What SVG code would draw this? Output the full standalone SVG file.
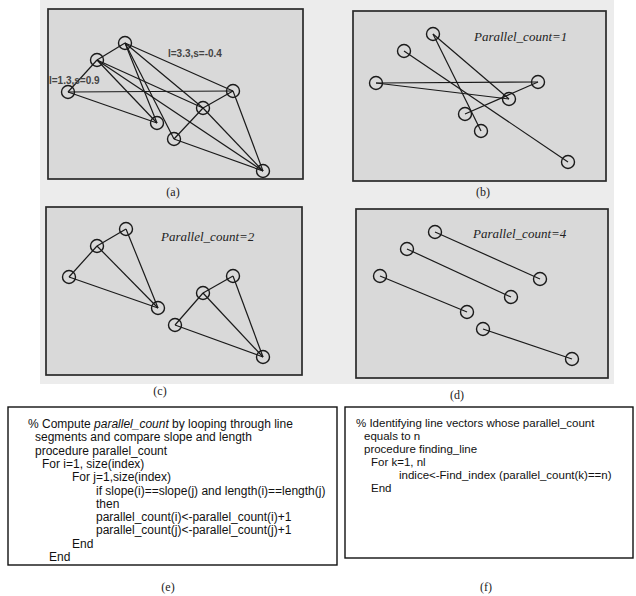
<svg xmlns="http://www.w3.org/2000/svg" width="636" height="596" viewBox="0 0 636 596">
<style>
.bg{fill:#ececec}
.panel{fill:#d9d9d9;stroke:#2a2a2a;stroke-width:1.7}
.box{fill:#fff;stroke:#111;stroke-width:1.4}
.n{fill:none;stroke:#1a1a1a;stroke-width:1.4}
.e line{stroke:#1a1a1a;stroke-width:1.2}
.cap{font-family:"Liberation Serif",serif;font-size:12px;fill:#222}
.pc{font-family:"Liberation Serif",serif;font-style:italic;font-size:13px;fill:#222}
.lab{font-family:"Liberation Sans",Arial,sans-serif;font-weight:bold;font-size:10px;fill:#444}
.code{font-family:"Liberation Sans",Arial,sans-serif;font-size:12px;fill:#111}
.code2{font-family:"Liberation Sans",Arial,sans-serif;font-size:11.5px;fill:#111}
</style>
<rect width="636" height="596" fill="#fff"/>
<rect class="bg" x="40" y="0" width="574" height="384"/>

<!-- Panel (a) -->
<g id="panel-a">
<rect class="panel" x="48" y="9" width="255" height="170"/>
<g class="e" id="edges-a">
<line x1="125" y1="43" x2="97" y2="60"/>
<line x1="97" y1="60" x2="68" y2="92"/>
<line x1="68" y1="92" x2="233" y2="91"/>
<line x1="68" y1="92" x2="157" y2="123"/>
<line x1="125" y1="43" x2="157" y2="123"/>
<line x1="125" y1="43" x2="174" y2="139"/>
<line x1="125" y1="43" x2="233" y2="91"/>
<line x1="125" y1="43" x2="203" y2="108"/>
<line x1="97" y1="60" x2="157" y2="123"/>
<line x1="97" y1="60" x2="203" y2="108"/>
<line x1="97" y1="60" x2="263" y2="171"/>
<line x1="233" y1="91" x2="203" y2="108"/>
<line x1="233" y1="91" x2="263" y2="171"/>
<line x1="203" y1="108" x2="174" y2="139"/>
<line x1="203" y1="108" x2="263" y2="171"/>
<line x1="174" y1="139" x2="263" y2="171"/>
</g>
<g id="a-n1"><circle class="n" cx="125" cy="43" r="6.5"/></g>
<g id="a-n2"><circle class="n" cx="97" cy="60" r="6.5"/></g>
<g id="a-n3"><circle class="n" cx="68" cy="92" r="6.5"/></g>
<g id="a-n4"><circle class="n" cx="233" cy="91" r="6.5"/></g>
<g id="a-n5"><circle class="n" cx="203" cy="108" r="6.5"/></g>
<g id="a-n6"><circle class="n" cx="157" cy="123" r="6.5"/></g>
<g id="a-n7"><circle class="n" cx="174" cy="139" r="6.5"/></g>
<g id="a-n8"><circle class="n" cx="263" cy="171" r="6.5"/></g>
<text class="lab" x="168" y="57">l=3.3,s=-0.4</text>
<text class="lab" x="49" y="84">l=1.3,s=0.9</text>
<text class="cap" x="173" y="196" text-anchor="middle">(a)</text>
</g>

<!-- Panel (b) -->
<g id="panel-b">
<rect class="panel" x="353" y="11" width="253" height="170"/>
<g class="e" id="edges-b">
<line x1="376" y1="83" x2="538" y2="82"/>
<line x1="376" y1="83" x2="509" y2="99"/>
<line x1="433" y1="34" x2="481" y2="131"/>
<line x1="433" y1="34" x2="509" y2="99"/>
<line x1="404" y1="51" x2="568" y2="162"/>
<line x1="465" y1="114" x2="538" y2="82"/>
</g>
<g id="b-n1"><circle class="n" cx="433" cy="34" r="6.5"/></g>
<g id="b-n2"><circle class="n" cx="404" cy="51" r="6.5"/></g>
<g id="b-n3"><circle class="n" cx="376" cy="83" r="6.5"/></g>
<g id="b-n4"><circle class="n" cx="538" cy="82" r="6.5"/></g>
<g id="b-n5"><circle class="n" cx="509" cy="99" r="6.5"/></g>
<g id="b-n6"><circle class="n" cx="465" cy="114" r="6.5"/></g>
<g id="b-n7"><circle class="n" cx="481" cy="131" r="6.5"/></g>
<g id="b-n8"><circle class="n" cx="568" cy="162" r="6.5"/></g>
<text class="pc" x="474" y="41">Parallel_count=1</text>
<text class="cap" x="483" y="196" text-anchor="middle">(b)</text>
</g>

<!-- Panel (c) -->
<g id="panel-c">
<rect class="panel" x="46" y="207" width="256" height="168"/>
<g class="e" id="edges-c">
<line x1="126" y1="229" x2="97" y2="246"/>
<line x1="97" y1="246" x2="69" y2="277"/>
<line x1="126" y1="229" x2="158" y2="308"/>
<line x1="97" y1="246" x2="158" y2="308"/>
<line x1="69" y1="277" x2="158" y2="308"/>
<line x1="233" y1="276" x2="203" y2="293"/>
<line x1="203" y1="293" x2="175" y2="325"/>
<line x1="233" y1="276" x2="263" y2="357"/>
<line x1="203" y1="293" x2="263" y2="357"/>
<line x1="175" y1="325" x2="263" y2="357"/>
</g>
<g id="c-n1"><circle class="n" cx="126" cy="229" r="6.5"/></g>
<g id="c-n2"><circle class="n" cx="97" cy="246" r="6.5"/></g>
<g id="c-n3"><circle class="n" cx="69" cy="277" r="6.5"/></g>
<g id="c-n4"><circle class="n" cx="158" cy="308" r="6.5"/></g>
<g id="c-n5"><circle class="n" cx="233" cy="276" r="6.5"/></g>
<g id="c-n6"><circle class="n" cx="203" cy="293" r="6.5"/></g>
<g id="c-n7"><circle class="n" cx="175" cy="325" r="6.5"/></g>
<g id="c-n8"><circle class="n" cx="263" cy="357" r="6.5"/></g>
<text class="pc" x="161" y="241">Parallel_count=2</text>
<text class="cap" x="160" y="395" text-anchor="middle">(c)</text>
</g>

<!-- Panel (d) -->
<g id="panel-d">
<rect class="panel" x="356" y="209" width="252" height="169"/>
<g class="e" id="edges-d">
<line x1="435" y1="232" x2="540" y2="279"/>
<line x1="407" y1="249" x2="511" y2="297"/>
<line x1="380" y1="276" x2="467" y2="312"/>
<line x1="483" y1="329" x2="572" y2="359"/>
</g>
<g id="d-n1"><circle class="n" cx="435" cy="232" r="6.5"/></g>
<g id="d-n2"><circle class="n" cx="540" cy="279" r="6.5"/></g>
<g id="d-n3"><circle class="n" cx="407" cy="249" r="6.5"/></g>
<g id="d-n4"><circle class="n" cx="511" cy="297" r="6.5"/></g>
<g id="d-n5"><circle class="n" cx="380" cy="276" r="6.5"/></g>
<g id="d-n6"><circle class="n" cx="467" cy="312" r="6.5"/></g>
<g id="d-n7"><circle class="n" cx="483" cy="329" r="6.5"/></g>
<g id="d-n8"><circle class="n" cx="572" cy="359" r="6.5"/></g>
<text class="pc" x="473" y="238">Parallel_count=4</text>
<text class="cap" x="457" y="399" text-anchor="middle">(d)</text>
</g>

<!-- Box (e) -->
<g id="box-e">
<rect class="box" x="8" y="407" width="329" height="158"/>
<text class="code" x="28" y="428">% Compute <tspan font-style="italic">parallel_count</tspan> by looping through line</text>
<text class="code" x="35" y="441.3">segments and compare slope and length</text>
<text class="code" x="35" y="454.6">procedure parallel_count</text>
<text class="code" x="42" y="467.9">For i=1, size(index)</text>
<text class="code" x="72" y="481.2">For j=1,size(index)</text>
<text class="code" x="96" y="494.5">if slope(i)==slope(j) and length(i)==length(j)</text>
<text class="code" x="96" y="507.8">then</text>
<text class="code" x="96" y="521.1">parallel_count(i)&lt;-parallel_count(i)+1</text>
<text class="code" x="96" y="534.4">parallel_count(j)&lt;-parallel_count(j)+1</text>
<text class="code" x="72" y="547.7">End</text>
<text class="code" x="49" y="561">End</text>
<text class="cap" x="168" y="591" text-anchor="middle">(e)</text>
</g>

<!-- Box (f) -->
<g id="box-f">
<rect class="box" x="345" y="407" width="288" height="151"/>
<text class="code2" x="356" y="427">% Identifying line vectors whose parallel_count</text>
<text class="code2" x="364" y="440">equals to n</text>
<text class="code2" x="364" y="453">procedure finding_line</text>
<text class="code2" x="371" y="466">For k=1, nl</text>
<text class="code2" x="399" y="479">indice&lt;-Find_index (parallel_count(k)==n)</text>
<text class="code2" x="371" y="492">End</text>
<text class="cap" x="486" y="591" text-anchor="middle">(f)</text>
</g>
</svg>
